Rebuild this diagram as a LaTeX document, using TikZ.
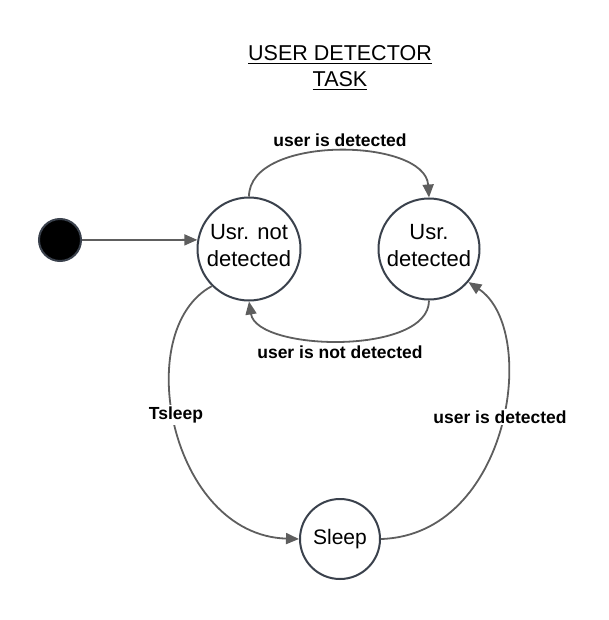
\documentclass[tikz,border=0pt]{standalone}
\usepackage{fontspec}
\setmainfont{Liberation Sans}
\usetikzlibrary{arrows.meta}
\definecolor{edgegray}{HTML}{5E5E5E}
\definecolor{ringcol}{HTML}{3A414C}
\newcommand{\lowpad}{\rule[-7pt]{0pt}{7pt}}
\begin{document}
\begin{tikzpicture}[x=1pt,y=-1pt,
  state/.style={circle,draw=ringcol,line width=2pt,fill=white,minimum size=#1,inner sep=0pt,align=center,font=\fontsize{22}{27}\selectfont},
  conn/.style={draw=edgegray,line width=1.8pt,-{Triangle[length=13pt,width=11pt]}},
  lbl/.style={fill=white,inner sep=2pt,font=\bfseries\fontsize{17.5}{20}\selectfont},
  ttl/.style={inner sep=0pt,anchor=base,font=\fontsize{21.5}{25}\selectfont}]
\useasboundingbox (0,0) rectangle (608,620);
% title
\node[ttl] (t1) at (340,61) {USER DETECTOR};
\node[ttl] (t2) at (340,87) {TASK};
\draw[line width=1.3pt] ([yshift=-2.2pt]t1.base west) -- ([yshift=-2.2pt]t1.base east);
\draw[line width=1.3pt] ([yshift=-2.2pt]t2.base west) -- ([yshift=-2.2pt]t2.base east);
% states
\node[circle,fill=black,draw=ringcol,line width=2pt,minimum size=42pt,inner sep=0pt] (start) at (60,240) {};
\node[state=103pt] (nd) at (249,249) {Usr. not\\detected\lowpad};
\node[state=101pt] (d) at (429,249) {Usr.\\detected\lowpad};
\node[state=80pt,font=\fontsize{21}{25}\selectfont] (sl) at (340,539) {Sleep};
% connectors
\draw[conn] (start.east) -- (nd.170);
\draw[conn] (nd.north) .. controls +(0,-62) and +(-4,-60) .. (d.north);
\draw[conn] (d.south) .. controls +(0,55) and +(8,50) .. (nd.south);
\draw[conn] (nd.225) .. controls (130,330) and (170,535) .. (sl.west);
\draw[conn] (sl.east) .. controls (510,535) and (540,330) .. (d.-40);
% labels
\node[lbl] (l1) at (340,140) {user is detected};
\node[lbl] (l2) at (340,352) {user is not detected};
\node[lbl] (l3) at (176,415) {Tsleep};
\node[lbl] (l4) at (500,417) {user is detected};
\end{tikzpicture}
\end{document}
